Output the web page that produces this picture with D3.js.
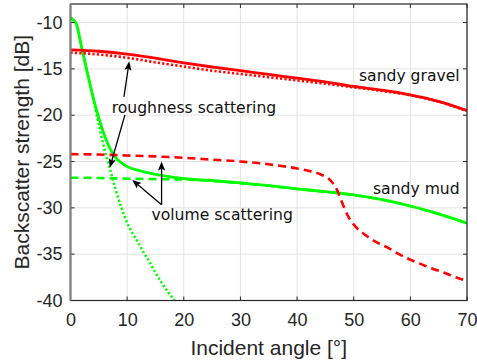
<!DOCTYPE html>
<html>
<head>
<meta charset="utf-8">
<script src="https://cdn.jsdelivr.net/npm/d3@7"></script>
<style>
  body { margin: 0; background: #fff; }
  svg { display: block; }
</style>
</head>
<body>
<svg id="chart" width="477" height="362"></svg>
<script>
// Sandy gravel: total, roughness and volume backscatter (dB) vs incident angle (deg)
const gravelTotalAngle = [0, 5, 10, 15, 20, 25, 30, 35, 40, 45, 50, 55, 60, 65, 70];
const gravelTotal = [-12.95, -13.1, -13.4, -13.85, -14.35, -14.8, -15.2, -15.6, -16.0, -16.4, -16.9, -17.3, -17.8, -18.5, -19.5];
const gravelRough = [-13.25, -13.45, -13.8, -14.3, -14.75, -15.2, -15.55, -15.9, -16.25, -16.6, -17.0, -17.38, -17.85, -18.55, -19.55];

const gravelVolAngle = [0, 5, 10, 15, 20, 25, 30, 35, 40, 42, 44, 46, 47, 48, 49, 50, 52, 54, 56, 58, 60, 62, 64, 66, 68, 70];
const gravelVol = [-24.2, -24.25, -24.35, -24.45, -24.6, -24.8, -25.0, -25.3, -25.75, -26.0, -26.35, -27.1, -28.0, -29.5, -30.9, -31.8, -32.9, -33.7, -34.3, -35.0, -35.6, -36.1, -36.6, -37.0, -37.5, -37.9];

// Sandy mud
const mudTotalAngle = [0, 1, 2, 3, 4, 5, 6, 7, 8, 9, 10, 12, 14, 16, 20, 25, 30, 35, 40, 45, 50, 55, 60, 65, 70];
const mudTotal = [-9.5, -10.1, -12.8, -15.5, -18.1, -20.3, -22.2, -23.6, -24.6, -25.15, -25.55, -25.95, -26.25, -26.5, -26.85, -27.05, -27.3, -27.6, -27.95, -28.25, -28.6, -29.1, -29.8, -30.65, -31.65];

const mudRoughAngle = [0, 1, 2, 3, 4, 5, 6, 7, 8, 9, 10, 11, 12, 13, 14, 15, 16, 17, 18, 19];
const mudRough = [-9.5, -10.1, -12.8, -15.5, -18.2, -21.0, -23.7, -25.9, -28.1, -30.0, -31.6, -32.8, -33.8, -34.9, -35.9, -37.0, -38.0, -38.9, -39.7, -40.5];

const mudVolAngle = [0, 5, 10, 15, 20, 25, 30, 35, 40, 45, 50, 55, 60, 65, 70];
const mudVol = [-26.75, -26.78, -26.85, -26.9, -26.95, -27.1, -27.33, -27.62, -27.97, -28.27, -28.62, -29.12, -29.82, -30.67, -31.67];

// Axis ticks
const xTicks = [0, 10, 20, 30, 40, 50, 60, 70];
const yTicks = [-40, -35, -30, -25, -20, -15, -10];

// Annotations (data coordinates)
const labels = [
  { text: "roughness scattering", x: 7.27, y: -19.77, anchor: "start" },
  { text: "volume scattering", x: 14.3, y: -31.28, anchor: "start" },
  { text: "sandy gravel", x: 68.7, y: -16.36, anchor: "end" },
  { text: "sandy mud", x: 68.7, y: -28.5, anchor: "end" }
];
const arrows = [
  { x0: 9.44, y0: -18.02, x1: 10.37, y1: -14.19 },
  { x0: 9.61, y0: -19.96, x1: 6.93, y1: -25.67 },
  { x0: 16.08, y0: -29.67, x1: 16.08, y1: -25.0 },
  { x0: 16.08, y0: -29.67, x1: 10.9, y1: -27.0 }
];

const svg = d3.select("#chart");
const plot = { left: 70.5, right: 467, top: 4, bottom: 300.5 };

const x = d3.scaleLinear().domain([0, 70]).range([plot.left, plot.right]);
const y = d3.scaleLinear().domain([-40, -8]).range([plot.bottom, plot.top]);

svg.append("rect").attr("width", 477).attr("height", 362).attr("fill", "#fff");

svg.append("defs").append("clipPath").attr("id", "clip")
  .append("rect")
  .attr("x", plot.left).attr("y", plot.top)
  .attr("width", plot.right - plot.left).attr("height", plot.bottom - plot.top);

// Grid
const grid = svg.append("g").attr("stroke", "#e3e3e3").attr("stroke-width", 1);
grid.selectAll("line.gx").data(xTicks).join("line")
  .attr("x1", d => x(d)).attr("x2", d => x(d))
  .attr("y1", plot.top).attr("y2", plot.bottom);
grid.selectAll("line.gy").data(yTicks).join("line")
  .attr("y1", d => y(d)).attr("y2", d => y(d))
  .attr("x1", plot.left).attr("x2", plot.right);

// Curves
const lineOf = (ax, vals) => d3.line()
  .x((d, i) => x(ax[i]))
  .y(d => y(d))
  .curve(d3.curveMonotoneX)(vals);

const curves = svg.append("g").attr("clip-path", "url(#clip)").attr("fill", "none");
const series = [
  { ax: mudVolAngle, v: mudVol, color: "#00ff00", w: 2.6, dash: "8 5" },
  { ax: mudRoughAngle, v: mudRough, color: "#00ff00", w: 2.6, dash: "2.2 2.2" },
  { ax: mudTotalAngle, v: mudTotal, color: "#00ff00", w: 2.8, dash: null },
  { ax: gravelTotalAngle, v: gravelRough, color: "#ff0000", w: 2.6, dash: "2.2 2.2" },
  { ax: gravelTotalAngle, v: gravelTotal, color: "#ff0000", w: 2.8, dash: null },
  { ax: gravelVolAngle, v: gravelVol, color: "#ff0000", w: 2.6, dash: "8 5" }
];
series.forEach(s => {
  curves.append("path")
    .attr("d", lineOf(s.ax, s.v))
    .attr("stroke", s.color)
    .attr("stroke-width", s.w)
    .attr("stroke-dasharray", s.dash)
    .attr("stroke-linejoin", "round");
});

// Axes
const axisColor = "#262626";
const fontTick = "'Liberation Sans', Arial, Helvetica, sans-serif";

const xAxis = d3.axisBottom(x).tickValues(xTicks).tickSize(0).tickPadding(13).tickFormat(d3.format("d"));
const gx = svg.append("g").attr("transform", `translate(0,${plot.bottom})`).call(xAxis);
gx.select(".domain").remove();
gx.selectAll("text").attr("font-family", fontTick).attr("font-size", 18).attr("fill", axisColor);

const yAxis = d3.axisLeft(y).tickValues(yTicks).tickSize(0).tickPadding(8).tickFormat(d => String(d));
const gy = svg.append("g").attr("transform", `translate(${plot.left},0)`).call(yAxis);
gy.select(".domain").remove();
gy.selectAll("text").attr("font-family", fontTick).attr("font-size", 18).attr("fill", axisColor);

// Inward tick marks on all four sides
const ticks = svg.append("g").attr("stroke", axisColor).attr("stroke-width", 1);
const tl = 4;
xTicks.forEach(t => {
  ticks.append("line").attr("x1", x(t)).attr("x2", x(t)).attr("y1", plot.bottom).attr("y2", plot.bottom - tl);
  ticks.append("line").attr("x1", x(t)).attr("x2", x(t)).attr("y1", plot.top).attr("y2", plot.top + tl);
});
yTicks.forEach(t => {
  ticks.append("line").attr("y1", y(t)).attr("y2", y(t)).attr("x1", plot.left).attr("x2", plot.left + tl);
  ticks.append("line").attr("y1", y(t)).attr("y2", y(t)).attr("x1", plot.right).attr("x2", plot.right - tl);
});

// Box
svg.append("rect")
  .attr("x", plot.left).attr("y", plot.top)
  .attr("width", plot.right - plot.left).attr("height", plot.bottom - plot.top)
  .attr("fill", "none").attr("stroke", axisColor).attr("stroke-width", 1.2);
svg.append("line")
  .attr("x1", plot.left).attr("x2", plot.left).attr("y1", plot.top).attr("y2", plot.bottom)
  .attr("stroke", "#808080").attr("stroke-width", 2.2);

// Axis titles
svg.append("text")
  .attr("x", (plot.left + plot.right) / 2).attr("y", 355)
  .attr("text-anchor", "middle")
  .attr("font-family", fontTick).attr("font-size", 21).attr("fill", axisColor)
  .text("Incident angle [°]");
svg.append("text")
  .attr("transform", `translate(28.5,${(plot.top + plot.bottom) / 2}) rotate(-90)`)
  .attr("text-anchor", "middle")
  .attr("font-family", fontTick).attr("font-size", 21).attr("fill", axisColor)
  .text("Backscatter strength [dB]");

// Annotations
const ann = svg.append("g");
labels.forEach(l => {
  ann.append("text")
    .attr("x", x(l.x)).attr("y", y(l.y))
    .attr("text-anchor", l.anchor)
    .attr("font-family", "'DejaVu Sans', sans-serif").attr("font-size", 15.6)
    .attr("fill", "#111")
    .text(l.text);
});

const headLen = 9, headHalf = 3.6;
arrows.forEach(a => {
  const sx = x(a.x0), sy = y(a.y0), ex = x(a.x1), ey = y(a.y1);
  const dx = ex - sx, dy = ey - sy, len = Math.hypot(dx, dy);
  const ux = dx / len, uy = dy / len, px = -uy, py = ux;
  const bx = ex - ux * headLen, by = ey - uy * headLen;
  ann.append("line")
    .attr("x1", sx).attr("y1", sy).attr("x2", bx + ux * 2).attr("y2", by + uy * 2)
    .attr("stroke", "#000").attr("stroke-width", 1.3);
  const nx = ex - ux * headLen * 0.8, ny = ey - uy * headLen * 0.8;
  ann.append("path")
    .attr("d", `M${ex},${ey}L${bx + px * headHalf},${by + py * headHalf}L${nx},${ny}L${bx - px * headHalf},${by - py * headHalf}Z`)
    .attr("fill", "#000");
});
</script>
</body>
</html>
